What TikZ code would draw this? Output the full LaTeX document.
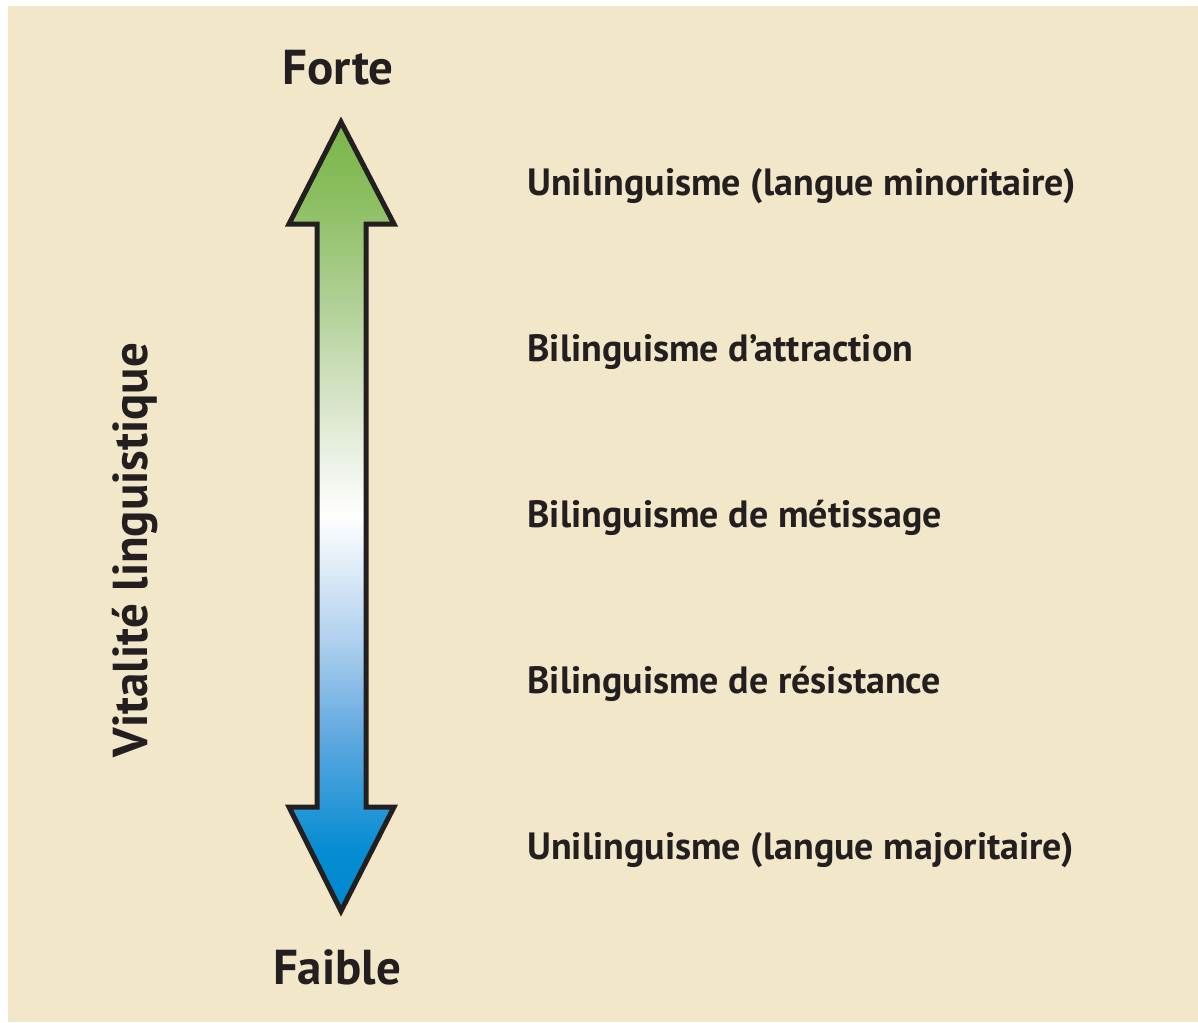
\documentclass[tikz,border=0pt]{standalone}
\usepackage{fontspec}
\setmainfont{PT Sans}
\definecolor{bg}{RGB}{243,231,201}
\definecolor{txt}{RGB}{35,31,32}
\definecolor{grn}{RGB}{122,182,70}
\definecolor{blu}{RGB}{0,136,207}
\definecolor{b1}{RGB}{5,140,210}
\definecolor{b2}{RGB}{100,170,225}
\definecolor{b3}{RGB}{175,208,238}
\definecolor{g1}{RGB}{215,228,200}
\definecolor{g2}{RGB}{175,208,148}
\definecolor{g3}{RGB}{140,190,98}
\pgfdeclareverticalshading{vitality}{100bp}{color(0bp)=(blu); color(25bp)=(blu); color(28.85bp)=(b1); color(36.45bp)=(b2); color(42.15bp)=(b3); color(50bp)=(white); color(57.4bp)=(g1); color(63.7bp)=(g2); color(70.05bp)=(g3); color(75bp)=(grn); color(100bp)=(grn)}
\begin{document}
\begin{tikzpicture}[x=0.5pt,y=-0.5pt,
  lbl/.style={font=\bfseries\fontsize{19.0pt}{22pt}\selectfont, text=txt, inner sep=0pt, anchor=base west},
  big/.style={font=\bfseries\fontsize{24.5pt}{28pt}\selectfont, text=txt, inner sep=0pt, anchor=base}]
\useasboundingbox (0,0) rectangle (1198,1022);
\fill[bg] (8,6) rectangle (1198,1022);
\shade[shading=vitality, draw=txt, line width=2.5pt, miter limit=10]
  (341,122) -- (394,224) -- (366,224) -- (366,807) -- (394,807) -- (341,911)
  -- (289,807) -- (317,807) -- (317,224) -- (289,224) -- cycle;
\node[big] (forte) at (338,85) {Forte};
\node[big] (faible) at (337,984) {Faible};
\node[big, rotate=90] (vital) at (147,550) {Vitalité linguistique};
\node[lbl] (l1) at (527,195) {Unilinguisme (langue minoritaire)};
\node[lbl] (l2) at (527,361) {Bilinguisme d’attraction};
\node[lbl] (l3) at (527,527) {Bilinguisme de métissage};
\node[lbl] (l4) at (527,693) {Bilinguisme de résistance};
\node[lbl] (l5) at (527,859) {Unilinguisme (langue majoritaire)};
\end{tikzpicture}
\end{document}
